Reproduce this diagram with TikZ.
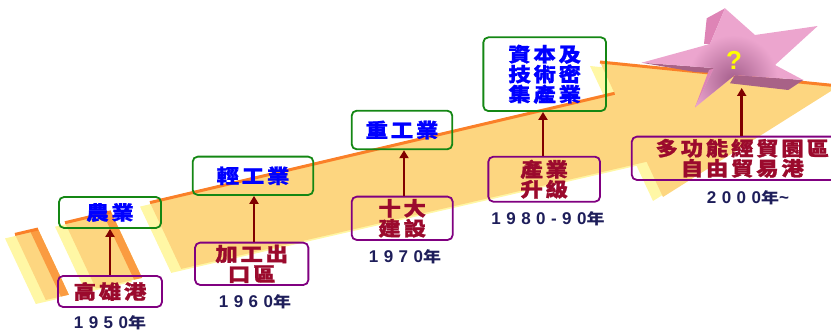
\documentclass[tikz,border=0pt]{standalone}
\usepackage{fontspec}
\usetikzlibrary{arrows.meta}
\newfontfamily\cjk[FakeStretch=1.15,LetterSpace=14,FakeBold=1.2]{Noto Sans CJK TC}
\newfontfamily\cjkyr[FakeStretch=1.2]{Noto Sans CJK TC}
\newfontfamily\numf[LetterSpace=32]{Liberation Sans}
\newfontfamily\qfont{Liberation Sans}
\newcommand\cjkbox{\cjk\bfseries\fontsize{19.5}{20}\selectfont}
\newcommand\yearfont{\numf\bfseries\fontsize{17}{17}\selectfont}
\newcommand\nian{{\cjkyr\bfseries\fontsize{15}{15}\selectfont 年}}
\definecolor{bandface}{RGB}{253,214,128}
\definecolor{bandpale}{RGB}{255,247,165}
\definecolor{bandedge}{RGB}{250,155,65}
\definecolor{orangeline}{RGB}{250,128,40}
\definecolor{starpink}{RGB}{236,165,206}
\definecolor{starlt}{RGB}{222,132,182}
\definecolor{stardk}{RGB}{168,98,135}
\definecolor{starcore}{RGB}{165,95,140}
\definecolor{boxgreen}{RGB}{20,135,20}
\definecolor{boxpurple}{RGB}{128,0,128}
\definecolor{textblue}{RGB}{0,0,255}
\definecolor{textred}{RGB}{155,10,45}
\definecolor{navy}{RGB}{30,30,90}
\definecolor{arrowred}{RGB}{128,0,0}
\definecolor{qyellow}{RGB}{255,255,0}
\tikzset{
  gbox/.style={draw=boxgreen, line width=1.8pt, rounded corners=5pt, inner sep=0pt, text=textblue, font=\cjkbox, align=center},
  pbox/.style={draw=boxpurple, line width=1.8pt, rounded corners=5pt, inner sep=0pt, text=textred, font=\cjkbox, align=center},
  yearlbl/.style={text=navy, inner sep=0pt, font=\yearfont},
  arr/.style={draw=arrowred, line width=2.6pt, -{Triangle[width=9pt,length=8pt]}},
  oline/.style={draw=orangeline, line width=3pt},
}
\begin{document}
\begin{tikzpicture}[x=1pt,y=-1pt]
\useasboundingbox (0,0) rectangle (831,334);
\clip (0,0) rectangle (831,334);
% ---- band: pale side faces ----
\begin{scope}[shift={(-10,4)}]
  \fill[bandpale] (15,234.4) -- (38,229) -- (68.9,294.7) -- (45.8,300) -- cycle;
  \fill[bandpale] (65,222.7) -- (111,211.8) -- (142.1,277.9) -- (95.9,288.5) -- cycle;
  \fill[bandpale] (150,202.6) -- (614.6,93.3) -- (600,62) -- (839,86) -- (663,197) -- (646.6,161.8) -- (181.2,268.9) -- cycle;
\end{scope}
% ---- band: top faces ----
\fill[bandface] (15,234.4) -- (38,229) -- (68.9,294.7) -- (45.8,300) -- cycle;
\fill[bandface] (65,222.7) -- (111,211.8) -- (142.1,277.9) -- (95.9,288.5) -- cycle;
\fill[bandface] (150,202.6) -- (614.6,93.3) -- (600,62) -- (839,86) -- (663,197) -- (646.6,161.8) -- (181.2,268.9) -- cycle;
\fill[bandedge] (30,230.9) -- (38,229) -- (68.9,294.7) -- (60.9,296.6) -- cycle;
\fill[bandedge] (103,213.7) -- (111,211.8) -- (142.1,277.9) -- (134.1,279.7) -- cycle;
\draw[oline] (15,234.4) -- (38,229);
\draw[oline] (65,222.7) -- (111,211.8);
\draw[oline] (150,202.6) -- (614.6,93.3);
\draw[oline] (600,62) -- (839,86);
% ---- star ----
\fill[starlt] (725,8.3) -- (706.7,18.3) -- (704,44) -- (710,44) -- cycle;
\fill[stardk] (641.7,62.7) -- (714,68) -- (712,73) -- (695,72) -- cycle;
\fill[starlt] (695,107.3) -- (709,70) -- (716,68) -- (712,90) -- cycle;
\fill[stardk] (735,75) -- (803.3,80) -- (788.3,90) -- (730,83.3) -- cycle;
\fill[starpink] (725,8.3) -- (755,35) -- (817.7,26) -- (775,65) -- (803.3,80) -- (735,75) -- (695,107.3) -- (714,68) -- (641.7,62.7) -- (710,44) -- cycle;
\begin{scope}
  \clip (725,8.3) -- (755,35) -- (817.7,26) -- (775,65) -- (803.3,80) -- (735,75) -- (695,107.3) -- (714,68) -- (641.7,62.7) -- (710,44) -- cycle;
  \shade[inner color=starcore, outer color=starpink] (733,80) circle (45);
\end{scope}
\node[text=qyellow, inner sep=0pt, font=\qfont\bfseries\fontsize{26}{26}\selectfont] (q) at (734,60) {?};
\coordinate (starpt) at (741.7,88);
% ---- boxes ----
\node[gbox, minimum width=102pt, minimum height=31pt] (nong) at (110,212.5) {農業};
\node[pbox, minimum width=104pt, minimum height=31pt] (gao) at (110,291.5) {高雄港};
\node[gbox, minimum width=120.6pt, minimum height=38.3pt] (qing) at (253,175.8) {輕工業};
\node[pbox, minimum width=113.3pt, minimum height=42.3pt] (jia) at (251.7,263.8) {加工出\\口區};
\node[gbox, minimum width=100.6pt, minimum height=38.6pt] (zhong) at (402,130) {重工業};
\node[pbox, minimum width=101pt, minimum height=43.3pt] (shi) at (402.2,218.3) {十大\\建設};
\node[gbox, minimum width=122.7pt, minimum height=73.7pt] (zi) at (544.7,74.2) {資本及\\技術密\\集產業};
\node[pbox, minimum width=111.7pt, minimum height=45pt] (chan) at (544.2,179.2) {產業\\升級};
\node[pbox, minimum width=221pt, minimum height=43.3pt] (duo) at (742.3,158.3) {多功能經貿園區\\自由貿易港};
% ---- years ----
\node[yearlbl] (y50) at (110,323) {1950\nian};
\node[yearlbl] (y60) at (255,302) {1960\nian};
\node[yearlbl] (y70) at (405,256.7) {1970\nian};
\node[yearlbl] (y80) at (548,219) {1980-90\nian};
\node[yearlbl] (y00) at (748,198) {2000\nian\textasciitilde};
% ---- arrows ----
\draw[arr] (gao.north) -- (nong.south);
\draw[arr] (jia.north -| 254,0) -- (qing.south -| 254,0);
\draw[arr] (shi.north -| 404,0) -- (zhong.south -| 404,0);
\draw[arr] (chan.north -| 543,0) -- (zi.south -| 543,0);
\draw[arr] (duo.north -| starpt) -- (starpt);
\end{tikzpicture}
\end{document}
